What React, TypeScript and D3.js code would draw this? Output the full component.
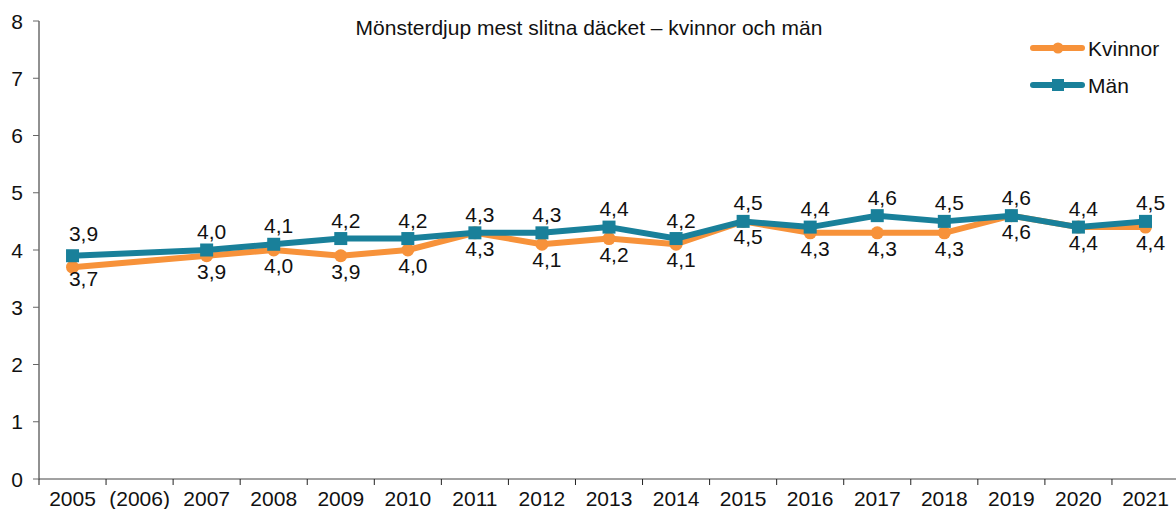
import React from 'react';
import * as d3 from 'd3';

const categories = ['2005', '(2006)', '2007', '2008', '2009', '2010', '2011', '2012', '2013', '2014', '2015', '2016', '2017', '2018', '2019', '2020', '2021'];
const years = ['2005', '2007', '2008', '2009', '2010', '2011', '2012', '2013', '2014', '2015', '2016', '2017', '2018', '2019', '2020', '2021'];
const kvinnor = [3.7, 3.9, 4.0, 3.9, 4.0, 4.3, 4.1, 4.2, 4.1, 4.5, 4.3, 4.3, 4.3, 4.6, 4.4, 4.4];
const man = [3.9, 4.0, 4.1, 4.2, 4.2, 4.3, 4.3, 4.4, 4.2, 4.5, 4.4, 4.6, 4.5, 4.6, 4.4, 4.5];
const yTicks = [0, 1, 2, 3, 4, 5, 6, 7, 8];

const ORANGE = '#F7923A';
const TEAL = '#19809A';
const FONT = '"Liberation Sans", Arial, Helvetica, sans-serif';
const FS = 21;

export default function App() {
  const width = 1176, height = 509;
  const margin = { top: 21, right: 0, bottom: 30, left: 39 };

  const x = d3.scaleBand()
    .domain(categories)
    .range([margin.left, margin.left + 67.06 * categories.length]);
  const y = d3.scaleLinear().domain([0, 8]).range([height - margin.bottom, margin.top]);

  const cx = (c: string) => (x(c) as number) + x.bandwidth() / 2;
  const fmt = (v: number) => v.toFixed(1).replace('.', ',');
  // first pair of labels sits a bit further out in the original
  const dx = (i: number) => (i === 0 ? 11 : 5);
  const dyUp = (i: number) => (i === 0 ? -15 : -11);
  const dyDown = (i: number) => (i === 0 ? 19 : 23);

  const line = d3.line<number>()
    .x((d, i) => cx(years[i]))
    .y(d => y(d));

  const y0 = y(0);

  return (
    <svg width={width} height={height} style={{ position: 'absolute', left: 0, top: 0, fontFamily: FONT }}>
      <rect width={width} height={height} fill="#fff" />
      <text x={589} y={35} textAnchor="middle" fontSize={FS} fill="#111">
        Mönsterdjup mest slitna däcket – kvinnor och män
      </text>

      {/* y axis */}
      <line x1={margin.left} x2={margin.left} y1={y(8)} y2={y0} stroke="#222" strokeWidth={1} />
      {yTicks.map(t => (
        <g key={t}>
          <line x1={margin.left - 6} x2={margin.left} y1={y(t)} y2={y(t)} stroke="#666" strokeWidth={1} />
          <text x={23} y={y(t) + 7.5} textAnchor="end" fontSize={FS} fill="#111">{t}</text>
        </g>
      ))}

      {/* x axis */}
      <line x1={margin.left} x2={width} y1={y0} y2={y0} stroke="#444" strokeWidth={1} />
      {categories.map(c => (
        <g key={c}>
          <line x1={x(c) as number} x2={x(c) as number} y1={y0} y2={y0 + 6} stroke="#222" strokeWidth={1} />
          <text x={cx(c)} y={y0 + 27} textAnchor="middle" fontSize={FS} fill="#111">{c}</text>
        </g>
      ))}

      {/* lines */}
      <path d={line(kvinnor) as string} fill="none" stroke={ORANGE} strokeWidth={6} strokeLinejoin="round" />
      {kvinnor.map((v, i) => (
        <circle key={'k' + i} cx={cx(years[i])} cy={y(v)} r={6.5} fill={ORANGE} />
      ))}
      <path d={line(man) as string} fill="none" stroke={TEAL} strokeWidth={6} strokeLinejoin="round" />
      {man.map((v, i) => (
        <rect key={'m' + i} x={cx(years[i]) - 6.5} y={y(v) - 6.5} width={13} height={13} fill={TEAL} />
      ))}

      {/* labels */}
      {man.map((v, i) => (
        <text key={'ml' + i} x={cx(years[i]) + dx(i)} y={y(v) + dyUp(i)} textAnchor="middle" fontSize={FS} fill="#111">{fmt(v)}</text>
      ))}
      {kvinnor.map((v, i) => (
        <text key={'kl' + i} x={cx(years[i]) + dx(i)} y={y(v) + dyDown(i)} textAnchor="middle" fontSize={FS} fill="#111">{fmt(v)}</text>
      ))}

      {/* legend */}
      <g>
        <line x1={1033} x2={1082} y1={48} y2={48} stroke={ORANGE} strokeWidth={6} strokeLinecap="round" />
        <circle cx={1058} cy={48} r={5.5} fill={ORANGE} />
        <text x={1088} y={56} fontSize={FS} fill="#111">Kvinnor</text>
        <line x1={1033} x2={1082} y1={85} y2={85} stroke={TEAL} strokeWidth={6} strokeLinecap="round" />
        <rect x={1052} y={79} width={12} height={12} fill={TEAL} />
        <text x={1088} y={93} fontSize={FS} fill="#111">Män</text>
      </g>
    </svg>
  );
}
